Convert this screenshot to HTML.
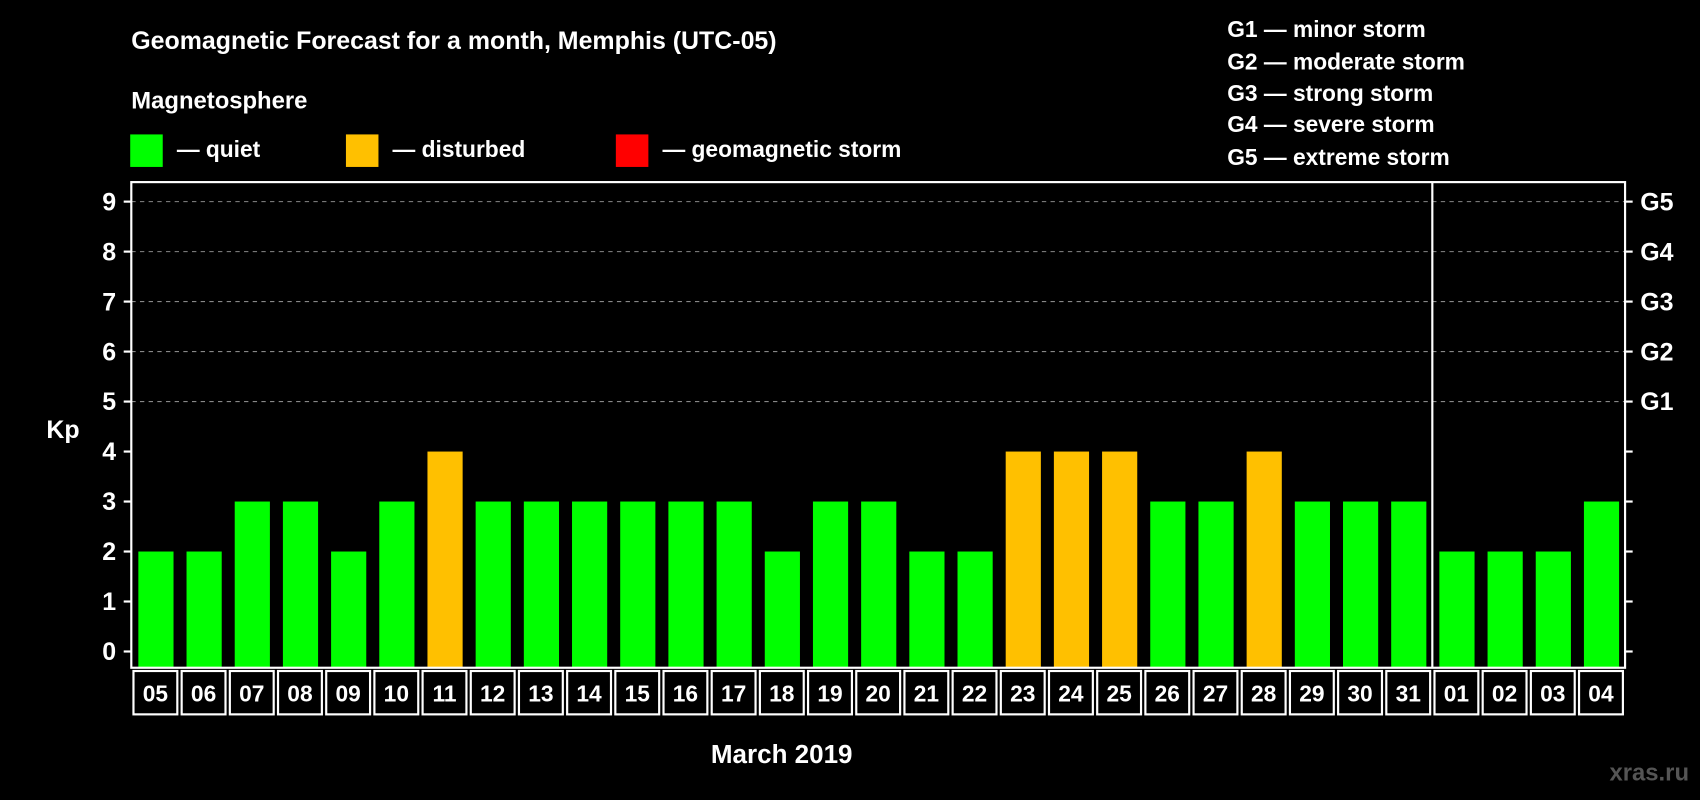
<!DOCTYPE html>
<html><head><meta charset="utf-8"><style>
html,body{margin:0;padding:0;background:#000;}
svg{display:block;font-family:"Liberation Sans",Arial,sans-serif;font-weight:bold;}
</style></head><body>
<svg id="chart" width="1700" height="800" viewBox="0 0 1568 738" xmlns="http://www.w3.org/2000/svg">
<rect x="0" y="0" width="1568" height="738" fill="#000"/>
<text x="121" y="45" fill="#fff" font-size="23">Geomagnetic Forecast for a month, Memphis (UTC-05)</text>
<text x="121" y="100" fill="#fff" font-size="22">Magnetosphere</text>
<g>
<rect x="120" y="124" width="30" height="30" fill="#00ff00"/>
<text x="163" y="145" fill="#fff" font-size="21">— quiet</text>
<rect x="319" y="124" width="30" height="30" fill="#ffc000"/>
<text x="362" y="145" fill="#fff" font-size="21">— disturbed</text>
<rect x="568" y="124" width="30" height="30" fill="#ff0000"/>
<text x="611" y="145" fill="#fff" font-size="21">— geomagnetic storm</text>
</g>
<g fill="#fff" font-size="21">
<text x="1132" y="34">G1 — minor storm</text>
<text x="1132" y="64">G2 — moderate storm</text>
<text x="1132" y="93">G3 — strong storm</text>
<text x="1132" y="122">G4 — severe storm</text>
<text x="1132" y="152">G5 — extreme storm</text>
</g>
<text x="58" y="404" fill="#fff" font-size="23" text-anchor="middle">Kp</text>
<text x="721" y="704" fill="#fff" font-size="24" text-anchor="middle">March 2019</text>
<text x="1558" y="720" fill="#555" font-size="22" text-anchor="end">xras.ru</text>
<g id="plot"></g>
</svg>
<script>
const days=["05","06","07","08","09","10","11","12","13","14","15","16","17","18","19","20","21","22","23","24","25","26","27","28","29","30","31","01","02","03","04"];
const kp=[2,2,3,3,2,3,4,3,3,3,3,3,3,2,3,3,2,2,4,4,4,3,3,4,3,3,3,2,2,2,3];
const yTicks=[0,1,2,3,4,5,6,7,8,9];
const gLabels=["G1","G2","G3","G4","G5"];
const gLevels=[5,6,7,8,9];
const monthBreakIndex=27;
const NS="http://www.w3.org/2000/svg";
const L=121,R=1499,T=168,B=616;
const slot=(R-L)/days.length;
const y=v=>601-v*(601-186)/9;
const x=i=>L+i*slot;
const g=document.getElementById('plot');
function mk(tag,attrs){const e=document.createElementNS(NS,tag);for(const k in attrs)e.setAttribute(k,attrs[k]);g.appendChild(e);return e;}
yTicks.forEach(v=>{
 if(v>=5){const d=mk('line',{x1:L,x2:R,y1:y(v),y2:y(v),stroke:'#888','stroke-dasharray':'4,4','stroke-width':1});
 
 }
 const t=mk('line',{x1:L-7,x2:L,y1:y(v),y2:y(v),stroke:'#fff','stroke-width':2});
 
 
 const t2=mk('line',{x1:R,x2:R+7,y1:y(v),y2:y(v),stroke:'#fff','stroke-width':2});
 
 
 const l=mk('text',{x:L-14,y:y(v)+8,fill:'#fff','font-size':23,'text-anchor':'end'});l.textContent=v;
 
 
});
gLevels.forEach((v,i)=>{const l=mk('text',{x:R+14,y:y(v)+8,fill:'#fff','font-size':23});l.textContent=gLabels[i];
 
 });
kp.forEach((v,i)=>{
 const c=v>=5?'#ff0000':(v>=4?'#ffc000':'#00ff00');
 const b=mk('rect',{x:x(i)+6.5,width:slot-6.5*2+1,y:y(v),height:y(0)-y(v)+15,fill:c});
 
 
 const bx=mk('rect',{x:x(i)+2,y:B+3,width:slot-4,height:40,fill:'none',stroke:'#fff','stroke-width':2});
 
 
 const t=mk('text',{x:x(i)+slot/2,y:B+31,fill:'#fff','font-size':21,'text-anchor':'middle'});t.textContent=days[i];
 
 
});
const fr=mk('rect',{x:L,y:T,width:R-L,height:B-T,fill:'none',stroke:'#fff','stroke-width':2});


const sep=mk('line',{x1:x(monthBreakIndex),x2:x(monthBreakIndex),y1:T,y2:B,stroke:'#fff','stroke-width':2});


</script>
</body></html>
